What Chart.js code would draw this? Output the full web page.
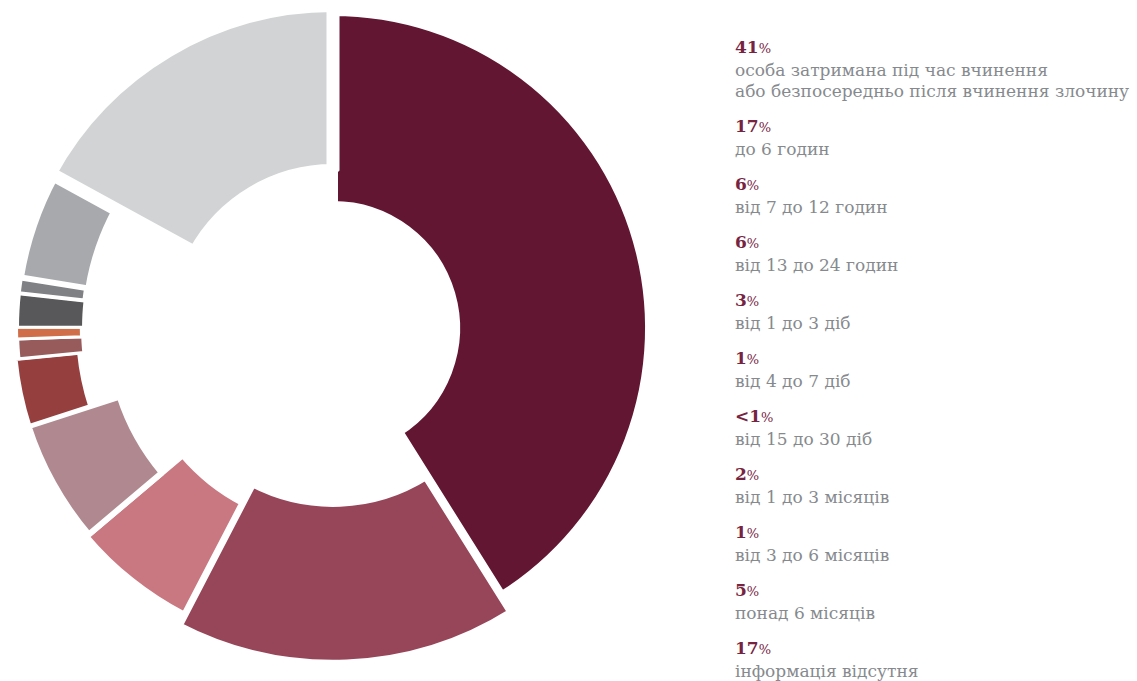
<!DOCTYPE html>
<html>
<head>
<meta charset="utf-8">
<script src="https://cdn.jsdelivr.net/npm/chart.js@4/dist/chart.umd.min.js"></script>
<style>
  html, body { margin: 0; padding: 0; background: #fff; }
  body { width: 1137px; height: 681px; position: relative; overflow: hidden; }
  #wrap { position: absolute; left: 0; top: 0; width: 666px; height: 681px; }
  #legend { position: absolute; left: 735px; top: 34.5px; font-family: "DejaVu Serif", "Liberation Serif", serif; }
  .item { margin-bottom: 12px; }
  .pct { color: #76243f; font-weight: bold; font-size: 17px; line-height: 25px; height: 25px; }
  .pct small { font-size: 13px; font-weight: normal; line-height: 0; }
  .lbl { color: #868a8e; font-size: 17px; line-height: 21px; height: 21px; white-space: nowrap; }
</style>
</head>
<body>
<div id="wrap"><canvas id="ring"></canvas></div>
<div id="legend"></div>
<script>
// categories, clockwise from 12 o'clock
const categories = [
  'особа затримана під час вчинення\nабо безпосередньо після вчинення злочину',
  'до 6 годин',
  'від 7 до 12 годин',
  'від 13 до 24 годин',
  'від 1 до 3 діб',
  'від 4 до 7 діб',
  'від 15 до 30 діб',
  'від 1 до 3 місяців',
  'від 3 до 6 місяців',
  'понад 6 місяців',
  'інформація відсутня'
];
// shares (the printed labels are rounded)
const shares = [41, 16.5, 6.2, 6.2, 3.4, 1, 0.6, 1.7, 0.8, 5.4, 17];
const shareLabels = ['41', '17', '6', '6', '3', '1', '<1', '2', '1', '5', '17'];

// styling per segment
const colors = ['#621632', '#974659', '#c97881', '#af898f', '#963f3f', '#975b5b',
                '#cf6e48', '#58585a', '#808184', '#a7a9ac', '#d1d3d4'];
// white outline of each slice, makes the gaps
const edge = [10, 8, 6, 6, 4, 3, 3, 3, 4, 6, 13];
// outer / inner edge as a share of the chart radius
const reach = [1.013, 1.073, 1.032, 1.022, 1.019, 1.008, 1.011, 1.008, 1.010, 1.010, 1.030];
const hole  = [0.390, 0.559, 0.629, 0.716, 0.815, 0.800, 0.804, 0.797, 0.799, 0.792, 0.503];

class RingController extends Chart.DoughnutController {
  updateElement(element, index, properties, mode) {
    if (properties && properties.outerRadius !== undefined && index !== undefined) {
      const base = properties.outerRadius;
      properties.outerRadius = base * reach[index];
      properties.innerRadius = base * hole[index];
    }
    super.updateElement(element, index, properties, mode);
  }
}
RingController.id = 'ring';
RingController.defaults = Chart.DoughnutController.defaults;
RingController.overrides = Chart.DoughnutController.overrides;
Chart.register(RingController);

new Chart(document.getElementById('ring'), {
  type: 'ring',
  data: {
    labels: categories,
    datasets: [{
      data: shares,
      backgroundColor: colors,
      borderColor: '#ffffff',
      borderWidth: edge,
      borderJoinStyle: 'bevel'
    }]
  },
  options: {
    responsive: true,
    maintainAspectRatio: false,
    animation: false,
    events: [],
    radius: 313,
    cutout: '40%',
    layout: { padding: { top: 0, left: 0, right: 0, bottom: 25 } },
    plugins: { legend: { display: false }, tooltip: { enabled: false } }
  }
});

const legend = document.getElementById('legend');
categories.forEach((c, i) => {
  const item = document.createElement('div');
  item.className = 'item';
  const p = document.createElement('div');
  p.className = 'pct';
  p.textContent = shareLabels[i];
  const s = document.createElement('small');
  s.textContent = '%';
  p.appendChild(s);
  item.appendChild(p);
  c.split('\n').forEach(line => {
    const l = document.createElement('div');
    l.className = 'lbl';
    l.textContent = line;
    item.appendChild(l);
  });
  legend.appendChild(item);
});
</script>
</body>
</html>
